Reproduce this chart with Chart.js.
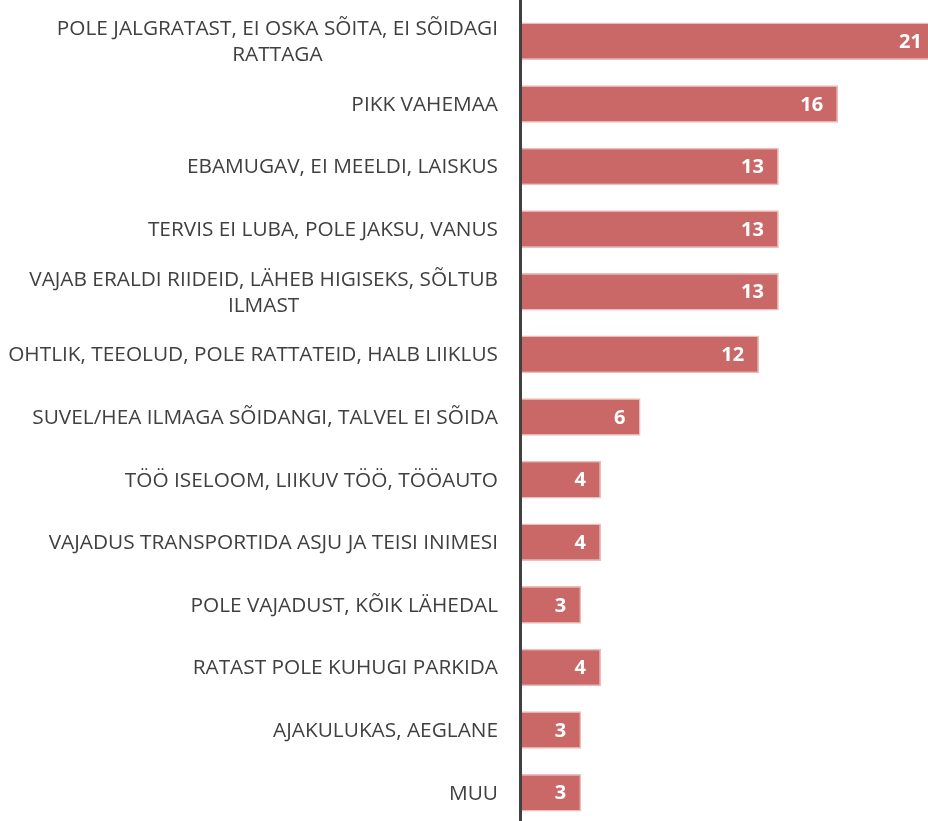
<!DOCTYPE html>
<html><head><meta charset="utf-8">
<script src="https://cdn.jsdelivr.net/npm/chart.js@4"></script>
<style>html,body{margin:0;padding:0;background:#fff;overflow:hidden;}#wrap{width:928px;height:824px;position:relative;}</style>
</head><body><div id="wrap"><canvas id="c"></canvas></div>
<script>
const categories = [
  ["POLE JALGRATAST, EI OSKA SÕITA, EI SÕIDAGI", "RATTAGA"],
  "PIKK VAHEMAA",
  "EBAMUGAV, EI MEELDI, LAISKUS",
  "TERVIS EI LUBA, POLE JAKSU, VANUS",
  ["VAJAB ERALDI RIIDEID, LÄHEB HIGISEKS, SÕLTUB", "ILMAST"],
  "OHTLIK, TEEOLUD, POLE RATTATEID, HALB LIIKLUS",
  "SUVEL/HEA ILMAGA SÕIDANGI, TALVEL EI SÕIDA",
  "TÖÖ ISELOOM, LIIKUV TÖÖ, TÖÖAUTO",
  "VAJADUS TRANSPORTIDA ASJU JA TEISI INIMESI",
  "POLE VAJADUST, KÕIK LÄHEDAL",
  "RATAST POLE KUHUGI PARKIDA",
  "AJAKULUKAS, AEGLANE",
  "MUU"
];
const values = [21, 16, 13, 13, 13, 12, 6, 4, 4, 3, 4, 3, 3];

const labelFont = '20.8px "Open Sans"';
const valueFont = 'bold 20px "Open Sans"';

const customDraw = {
  id: 'customDraw',
  afterDraw(chart) {
    const ctx = chart.ctx;
    const y = chart.scales.y, x = chart.scales.x;
    const x0 = x.getPixelForValue(0);
    ctx.save();
    ctx.strokeStyle = '#404040';
    ctx.lineWidth = 3;
    ctx.beginPath();
    ctx.moveTo(x0 - 1.5, 0);
    ctx.lineTo(x0 - 1.5, chart.height);
    ctx.stroke();
    ctx.font = labelFont;
    ctx.fillStyle = '#404040';
    ctx.textBaseline = 'middle';
    const rightEdge = x0 - 24;
    const lh = 26;
    categories.forEach((lab, i) => {
      const cy = y.getPixelForValue(i);
      const lines = Array.isArray(lab) ? lab : [lab];
      if (lines.length === 1) {
        ctx.textAlign = 'right';
        ctx.fillText(lines[0], rightEdge, cy + 1);
      } else {
        const w = Math.max(...lines.map(l => ctx.measureText(l).width));
        const cx = rightEdge - w / 2;
        ctx.textAlign = 'center';
        lines.forEach((l, k) => {
          ctx.fillText(l, cx, cy + 1 + (k - (lines.length - 1) / 2) * lh);
        });
      }
    });
    ctx.font = valueFont;
    ctx.fillStyle = '#ffffff';
    ctx.textAlign = 'right';
    values.forEach((v, i) => {
      const px = x.getPixelForValue(v);
      const cy = y.getPixelForValue(i);
      ctx.fillText(String(v), px - 15, cy + 1);
    });
    ctx.restore();
  }
};

new Chart(document.getElementById('c'), {
  type: 'bar',
  data: {
    labels: categories.map(c => Array.isArray(c) ? c.join(' ') : c),
    datasets: [{
      data: values,
      backgroundColor: '#C96866',
      borderColor: '#EDBDBB',
      borderWidth: 1.5,
      categoryPercentage: 1,
      barPercentage: 0.6
    }]
  },
  options: {
    indexAxis: 'y',
    responsive: true,
    maintainAspectRatio: false,
    animation: false,
    layout: { padding: { left: 522, top: 10, right: 0, bottom: 0 } },
    plugins: { legend: { display: false }, tooltip: { enabled: false } },
    scales: {
      x: { display: false, min: 0, max: 20.55 },
      y: { display: false }
    }
  },
  plugins: [customDraw]
});
</script></body></html>
